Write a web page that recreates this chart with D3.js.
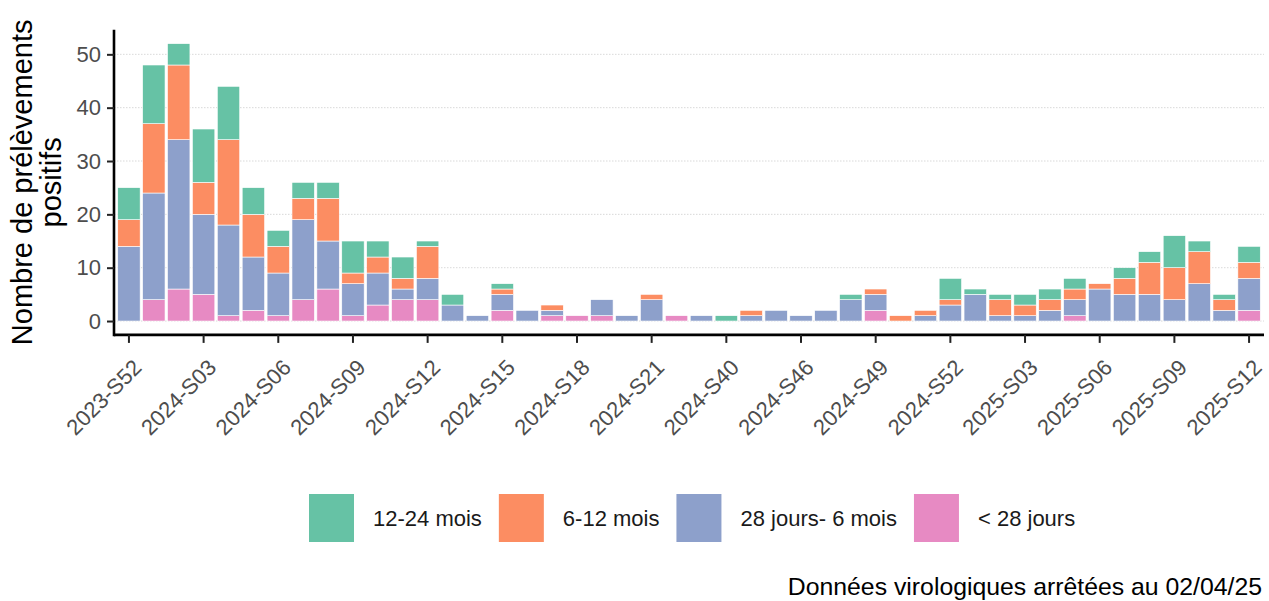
<!DOCTYPE html>
<html>
<head>
<meta charset="utf-8">
<script src="https://cdn.jsdelivr.net/npm/d3@7"></script>
<style>
  body { margin: 0; background: #fff; }
  svg { display: block; font-family: "Liberation Sans", Arial, sans-serif; }
</style>
</head>
<body>
<svg width="1269" height="601"></svg>
<script>
// weeks shown on the x axis (only weeks with positive samples)
var weeks = ["2023-S52",
  "2024-S01","2024-S02","2024-S03","2024-S04","2024-S05","2024-S06","2024-S07",
  "2024-S08","2024-S09","2024-S10","2024-S11","2024-S12","2024-S13","2024-S14",
  "2024-S15","2024-S16","2024-S17","2024-S18","2024-S19","2024-S20","2024-S21",
  "2024-S22","2024-S27","2024-S40","2024-S42","2024-S44","2024-S46","2024-S47",
  "2024-S48","2024-S49","2024-S50","2024-S51","2024-S52",
  "2025-S01","2025-S02","2025-S03","2025-S04","2025-S05","2025-S06","2025-S07",
  "2025-S08","2025-S09","2025-S10","2025-S11","2025-S12"];

// counts per age group
var moins28j  = [0,4,6,5,1,2,1,4,6,1,3,4,4,0,0,2,0,1,1,1,0,0,1,0,0,0,0,0,0,0,2,0,0,0,0,0,0,0,1,0,0,0,0,0,0,2];
var j28_6mois = [14,20,28,15,17,10,8,15,9,6,6,2,4,3,1,3,2,1,0,3,1,4,0,1,0,1,2,1,2,4,3,0,1,3,5,1,1,2,3,6,5,5,4,7,2,6];
var m6_12     = [5,13,14,6,16,8,5,4,8,2,3,2,6,0,0,1,0,1,0,0,0,1,0,0,0,1,0,0,0,0,1,1,1,1,0,3,2,2,2,1,3,6,6,6,2,3];
var m12_24    = [6,11,4,10,10,5,3,3,3,6,3,4,1,2,0,1,0,0,0,0,0,0,0,0,1,0,0,0,0,1,0,0,0,4,1,1,2,2,2,0,2,2,6,2,1,3];

var groups = ["< 28 jours", "28 jours- 6 mois", "6-12 mois", "12-24 mois"];
var colors = ["#e78ac3", "#8da0cb", "#fc8d62", "#66c2a5"];
var legendOrder = ["12-24 mois", "6-12 mois", "28 jours- 6 mois", "< 28 jours"];
var yTicks = [0, 10, 20, 30, 40, 50];

var table = weeks.map(function(w, i) {
  return {
    week: w,
    "< 28 jours": moins28j[i],
    "28 jours- 6 mois": j28_6mois[i],
    "6-12 mois": m6_12[i],
    "12-24 mois": m12_24[i]
  };
});

var svg = d3.select("svg");
var pLeft = 114, pRight = 1264, pTop = 29.8, pBottom = 334.9;

var x = d3.scaleBand()
  .domain(weeks)
  .range([pLeft, pRight])
  .paddingInner(0.1)
  .paddingOuter(0.15);

var y = d3.scaleLinear()
  .domain([-2.6, 54.6])
  .range([pBottom, pTop]);

var color = d3.scaleOrdinal().domain(groups).range(colors);

//------- grid
svg.append("g")
  .selectAll("line")
  .data(yTicks)
  .enter().append("line")
    .attr("x1", pLeft).attr("x2", pRight)
    .attr("y1", function(d) { return y(d); })
    .attr("y2", function(d) { return y(d); })
    .attr("stroke", "#cfcfcf")
    .attr("stroke-width", 0.8)
    .attr("stroke-dasharray", "1.5,1.5");

//------- bars
var stacked = d3.stack().keys(groups)(table);

svg.append("g")
  .selectAll("g")
  .data(stacked)
  .enter().append("g")
    .attr("fill", function(d) { return color(d.key); })
  .selectAll("rect")
  .data(function(d) { return d.filter(function(v) { return v[1] > v[0]; }); })
  .enter().append("rect")
    .attr("x", function(d) { return x(d.data.week); })
    .attr("width", x.bandwidth())
    .attr("y", function(d) { return y(d[1]); })
    .attr("height", function(d) { return y(d[0]) - y(d[1]); })
    .attr("stroke", "#fff")
    .attr("stroke-width", 0.6);

//------- axes
var xAxis = svg.append("g")
  .attr("transform", "translate(0," + pBottom + ")")
  .call(d3.axisBottom(x)
    .tickValues(weeks.filter(function(d, i) { return i % 3 === 0; }))
    .tickSize(8)
    .tickSizeOuter(0));
xAxis.select(".domain").attr("stroke", "#000").attr("stroke-width", 2.6)
  .attr("d", "M" + pLeft + ",0H" + pRight);
xAxis.selectAll(".tick line").attr("stroke", "#222").attr("stroke-width", 2);
xAxis.selectAll(".tick text")
  .attr("font-size", 22)
  .attr("fill", "#4d4d4d")
  .attr("text-anchor", "end")
  .attr("dy", "0.71em")
  .attr("y", 0)
  .attr("transform", "translate(3,23) rotate(-45)");

var yAxis = svg.append("g")
  .attr("transform", "translate(" + pLeft + ",0)")
  .call(d3.axisLeft(y)
    .tickValues(yTicks)
    .tickSize(7)
    .tickSizeOuter(0)
    .tickPadding(6));
yAxis.select(".domain").attr("stroke", "#000").attr("stroke-width", 2.6)
  .attr("d", "M0," + pTop + "V" + (pBottom + 1.3));
yAxis.selectAll(".tick line").attr("stroke", "#222").attr("stroke-width", 2);
yAxis.selectAll(".tick text")
  .attr("font-size", 22)
  .attr("fill", "#4d4d4d");

// y title, two lines
var ytitle = svg.append("text")
  .attr("transform", "translate(32," + ((pTop + pBottom) / 2) + ") rotate(-90)")
  .attr("text-anchor", "middle")
  .attr("font-size", 29)
  .attr("fill", "#000");
ytitle.append("tspan").attr("x", 0).attr("dy", 0).text("Nombre de prélèvements");
ytitle.append("tspan").attr("x", 0).attr("dy", 29).text("positifs");

//------- legend
var legend = svg.append("g");
var lx = 309;
legendOrder.forEach(function(k) {
  legend.append("rect")
    .attr("x", lx).attr("y", 494)
    .attr("width", 45).attr("height", 48)
    .attr("fill", color(k));
  var t = legend.append("text")
    .attr("x", lx + 64).attr("y", 526)
    .attr("font-size", 22)
    .attr("fill", "#1a1a1a")
    .text(k);
  lx += 64 + t.node().getComputedTextLength() + 17;
});

// caption
svg.append("text")
  .attr("x", 1262).attr("y", 595)
  .attr("text-anchor", "end")
  .attr("font-size", 24.8)
  .attr("fill", "#000")
  .text("Données virologiques arrêtées au 02/04/25");
</script>
</body>
</html>
